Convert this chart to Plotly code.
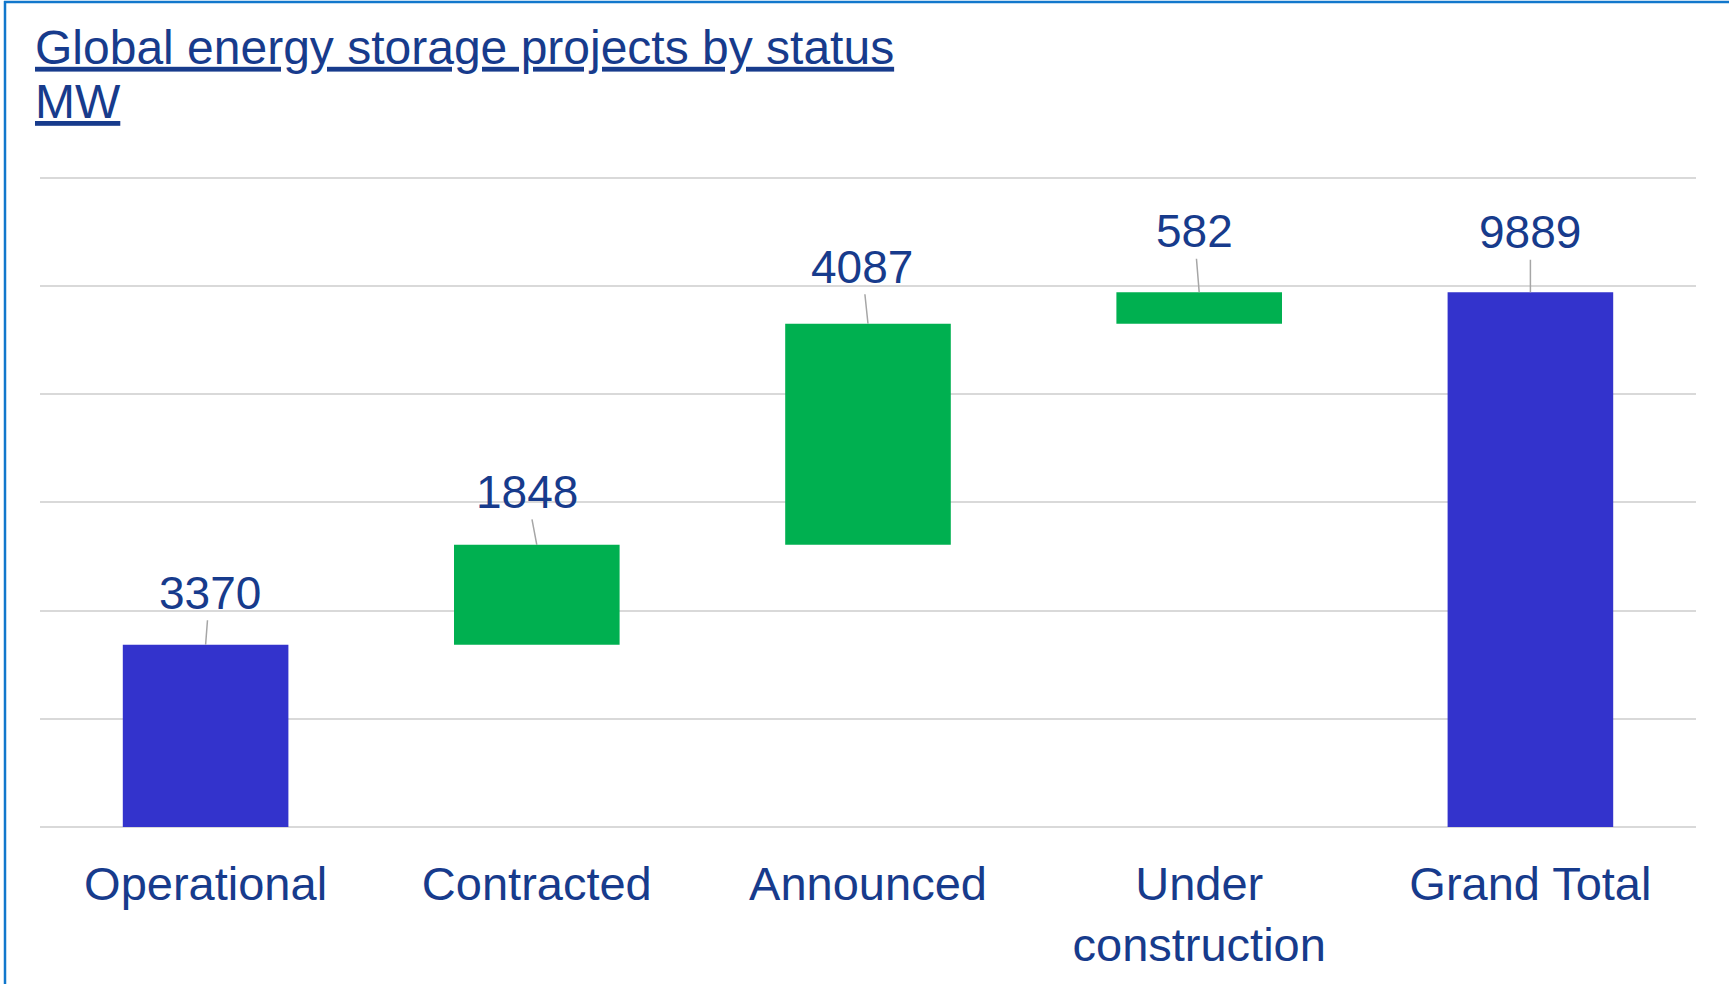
import plotly.graph_objects as go

# ---- data ----
categories = ["Operational", "Contracted", "Announced", "Under<br>construction", "Grand Total"]
values = [3370, 1848, 4087, 582, 9889]
measures = ["absolute", "relative", "relative", "relative", "absolute"]
labels = ["3370", "1848", "4087", "582", "9889"]

# label offsets (pixels) for the data labels relative to bar tops
label_dx = [4, -10, -6, -5, 0]
label_dy = [-52, -53, -57, -61, -60]

NAVY = "#173B8C"
BLUE = "#3333CC"
GREEN = "#00B050"
GRID = "#D9D9D9"
FONT = "Liberation Sans, Arial, sans-serif"

W, H = 1729, 984
ML, MR, MT, MB = 40, 33, 165, 157
PW, PH = W - ML - MR, H - MT - MB

# bar tops (cumulative) from the data
tops = []
run = 0
for m, v in zip(measures, values):
    run = v if m == "absolute" else run + v
    tops.append(run)

fig = go.Figure(go.Waterfall(
    x=categories,
    y=values,
    measure=measures,
    width=0.5,
    totals=dict(marker=dict(color=BLUE)),
    increasing=dict(marker=dict(color=GREEN)),
    decreasing=dict(marker=dict(color=GREEN)),
    connector=dict(visible=False),
    hoverinfo="skip",
    showlegend=False,
))

annotations = []
for cat, top, lab, dx, dy in zip(categories, tops, labels, label_dx, label_dy):
    annotations.append(dict(
        x=cat, y=top, xref="x", yref="y",
        text=lab, showarrow=True, arrowhead=0, arrowwidth=1.5,
        arrowcolor="#A6A6A6", standoff=0, startstandoff=0,
        ax=dx, ay=dy,
        font=dict(family=FONT, size=46, color=NAVY),
    ))


def px_x(p):
    return (p - ML) / PW


def px_y(p):
    return (H - MB - p) / PH


# second title line (unit)
annotations.append(dict(
    text="<u>MW</u>", xref="paper", yref="paper",
    x=px_x(33), xanchor="left",
    y=px_y(102), yanchor="middle",
    showarrow=False,
    font=dict(family=FONT, size=48, color=NAVY),
))

fig.update_layout(
    width=W, height=H,
    margin=dict(l=ML, r=MR, t=MT, b=MB),
    paper_bgcolor="white", plot_bgcolor="white",
    title=dict(
        text="<u>Global energy storage projects by status</u>",
        font=dict(family=FONT, size=48, color=NAVY),
        x=35 / W, xanchor="left", xref="container",
        y=1 - 47 / H, yanchor="middle", yref="container",
    ),
    annotations=annotations,
    shapes=[
        dict(type="line", xref="paper", yref="paper",
             x0=px_x(4), x1=px_x(W + 5),
             y0=px_y(2), y1=px_y(2),
             line=dict(color="#1177CC", width=2.5)),
        dict(type="line", xref="paper", yref="paper",
             x0=px_x(5), x1=px_x(5),
             y0=px_y(H + 5), y1=px_y(1),
             line=dict(color="#1177CC", width=2.5)),
    ],
    xaxis=dict(
        showgrid=False, showline=False, ticks="",
        tickfont=dict(family=FONT, size=47, color=NAVY),
        ticklabelstandoff=25,
    ),
    yaxis=dict(
        range=[0, 12240], tickvals=[0, 2000, 4000, 6000, 8000, 10000, 12000],
        showticklabels=False,
        showgrid=True, gridcolor=GRID, gridwidth=2,
        zeroline=True, zerolinecolor=GRID, zerolinewidth=2,
        ticks="",
    ),
)

fig.write_html("out.html", config={"displayModeBar": False},
               post_script="document.body.style.margin='0';")
